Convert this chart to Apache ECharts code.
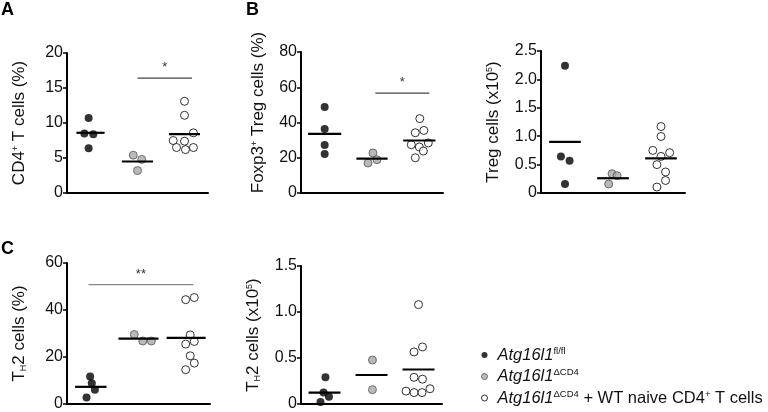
<!DOCTYPE html>
<html>
<head>
<meta charset="utf-8">
<script src="https://cdn.jsdelivr.net/npm/echarts@6/dist/echarts.min.js"></script>
<style>html,body{margin:0;padding:0;background:#fff}#c{width:768px;height:412px}</style>
</head>
<body>
<div id="c"></div>
<script>
// ---------- DATA ----------
var groupNames = ['Atg16l1 fl/fl', 'Atg16l1 ΔCD4', 'Atg16l1 ΔCD4 + WT naive CD4+ T cells'];

// Panel A: CD4+ T cells (%)
var aFl = [10.7, 8.5, 8.4, 6.4];
var aFlDx = [-0.04, -0.13, 0.06, -0.04];
var aKo = [5.4, 4.8, 3.2];
var aKoDx = [-0.09, 0.09, 0.0];
var aWt = [13.1, 11.1, 8.6, 7.5, 7.4, 6.5, 6.2, 6.5];
var aWtDx = [0, 0, 0.19, -0.24, 0, -0.17, 0.02, 0.19];
var aMeans = [8.6, 4.5, 8.4];
var aTicks = [0, 5, 10, 15, 20];
var aSig = [[2.0, 3.16, 16.4]];
var aSigLabel = ['*'];

// Panel B left: Foxp3+ Treg cells (%)
var bFl = [48.8, 36.3, 27.2, 22.1];
var bFlDx = [0, 0, 0, 0];
var bKo = [22.7, 17.0, 18.9];
var bKoDx = [0.02, -0.085, 0.105];
var bWt = [42.2, 35.5, 34.2, 28.4, 27.4, 26.1, 23.8, 20.0];
var bWtDx = [0.01, 0.095, -0.085, 0.19, -0.17, 0, 0.085, -0.085];
var bMeans = [33.5, 19.5, 29.8];
var bTicks = [0, 20, 40, 60, 80];
var bSig = [[2.07, 3.21, 56.7]];
var bSigLabel = ['*'];

// Panel B right: Treg cells (x10^5)
var b2Fl = [2.24, 0.644, 0.568, 0.158];
var b2FlDx = [0, -0.085, 0.095, 0];
var b2Ko = [0.34, 0.305, 0.158];
var b2KoDx = [-0.02, 0.085, -0.09];
var b2Wt = [1.17, 0.995, 0.75, 0.71, 0.644, 0.50, 0.37, 0.22, 0.105];
var b2WtDx = [0, 0, -0.17, 0.18, 0, -0.085, 0.095, 0.095, -0.085];
var b2Means = [0.9, 0.26, 0.61];
var b2Ticks = [0, 0.5, 1.0, 1.5, 2.0, 2.5];

// Panel C left: TH2 cells (%)
var cFl = [11.7, 8.8, 6.1, 2.8];
var cFlDx = [-0.015, 0.02, 0.085, -0.09];
var cKo = [29.6, 26.8, 26.8];
var cKoDx = [-0.09, 0.09, 0.27];
var cWt = [45.3, 44.4, 29.4, 26.6, 25.5, 20.5, 17.4, 14.6];
var cWtDx = [0.17, -0.01, 0.085, 0.17, -0.01, 0.085, 0.17, -0.01];
var cMeans = [7.3, 27.8, 28.1];
var cTicks = [0, 20, 40, 60];
var cSig = [[0.95, 3.15, 50.8]];
var cSigLabel = ['**'];

// Panel C right: TH2 cells (x10^5)
var c2Fl = [0.29, 0.124, 0.078, 0.021];
var c2FlDx = [0.02, -0.02, 0.095, -0.085];
var c2Ko = [0.478, 0.156];
var c2KoDx = [0.02, 0.02];
var c2Wt = [1.08, 0.62, 0.566, 0.29, 0.27, 0.14, 0.124, 0.124, 0.166];
var c2WtDx = [0, 0.085, -0.095, -0.095, 0.085, -0.265, -0.095, 0.075, 0.245];
var c2Means = [0.124, 0.315, 0.375];
var c2Ticks = [0, 0.5, 1.0, 1.5];

// ---------- LAYOUT / STYLE ----------
var FONT = 'Liberation Sans, Arial, sans-serif';
var panels = [
  {grid:{left:67, top:53, width:141, height:140}, ticks:aTicks, dec:false, gap:39, namePad:0,
   name:'{n|CD4}{s|+}{n| T cells (%)}',
   groups:[[aFl,aFlDx],[aKo,aKoDx],[aWt,aWtDx]], means:aMeans, hw:[0.3,0.33,0.33], sig:aSig, sigLabel:aSigLabel, sigColor:'#444'},
  {grid:{left:301, top:52, width:142, height:141}, ticks:bTicks, dec:false, gap:34, namePad:20,
   name:'{n|Foxp3}{s|+}{n| Treg cells (%)}',
   groups:[[bFl,bFlDx],[bKo,bKoDx],[bWt,bWtDx]], means:bMeans, hw:[0.35,0.33,0.34], sig:bSig, sigLabel:bSigLabel, sigColor:'#444'},
  {grid:{left:541, top:51, width:144, height:142}, ticks:b2Ticks, dec:true, gap:39, namePad:0,
   name:'{n|Treg cells (x10}{s|5}{n|)}',
   groups:[[b2Fl,b2FlDx],[b2Ko,b2KoDx],[b2Wt,b2WtDx]], means:b2Means, hw:[0.33,0.33,0.33], sig:null},
  {grid:{left:67, top:263, width:143, height:144}, ticks:cTicks, dec:false, gap:39, namePad:0,
   name:'{n|T}{b|H}{n|2 cells (%)}',
   groups:[[cFl,cFlDx],[cKo,cKoDx],[cWt,cWtDx]], means:cMeans, hw:[0.33,0.42,0.41], sig:cSig, sigLabel:cSigLabel, sigColor:'#888'},
  {grid:{left:301, top:266, width:141, height:141}, ticks:c2Ticks, dec:true, gap:39, namePad:0,
   name:'{n|T}{b|H}{n|2 cells (x10}{s|5}{n|)}',
   groups:[[c2Fl,c2FlDx],[c2Ko,c2KoDx],[c2Wt,c2WtDx]], means:c2Means, hw:[0.34,0.34,0.34], sig:null}
];

var groupStyles = [
  {color:'#000', borderColor:'#000', borderWidth:0},
  {color:'#a8a8a8', borderColor:'#555', borderWidth:1},
  {color:'#fff', borderColor:'#000', borderWidth:1}
];

var nameRich = {
  n:{fontSize:17, fontFamily:FONT, color:'#111'},
  s:{fontSize:9, fontFamily:FONT, color:'#111', verticalAlign:'top', padding:[0,0,8,0]},
  b:{fontSize:9, fontFamily:FONT, color:'#111', verticalAlign:'bottom', padding:[5,0,0,0]}
};

var grids = [], xAxes = [], yAxes = [], series = [];
panels.forEach(function(p, pi){
  grids.push(p.grid);
  xAxes.push({type:'value', gridIndex:pi, min:0.5, max:3.5,
    axisLine:{show:true, onZero:false, lineStyle:{color:'#000', width:2}},
    axisTick:{show:false}, axisLabel:{show:false}, splitLine:{show:false}});
  var t = p.ticks;
  yAxes.push({type:'value', gridIndex:pi, min:t[0], max:t[t.length-1], interval:t[1]-t[0],
    name:p.name, nameLocation:'middle', nameGap:p.gap,
    nameTextStyle:{rich:nameRich, padding:[0,0,0,p.namePad]},
    axisLine:{show:true, lineStyle:{color:'#000', width:2}},
    axisTick:{show:true, length:4, lineStyle:{color:'#000', width:1.5}},
    axisLabel:{fontSize:16, fontFamily:FONT, color:'#111', margin:4,
      formatter:function(v){ return p.dec ? (v===0 ? '0' : v.toFixed(1)) : String(v); }},
    splitLine:{show:false}});
  p.groups.forEach(function(g, gi){
    var vals = g[0], dx = g[1];
    series.push({type:'scatter', name:groupNames[gi], xAxisIndex:pi, yAxisIndex:pi,
      symbol:'circle', symbolSize:8, z:3,
      itemStyle:groupStyles[gi],
      data: vals.map(function(v, k){ return [gi + 1 + dx[k], v]; })});
  });
  series.push({type:'custom', xAxisIndex:pi, yAxisIndex:pi, z:5, silent:true,
    data: p.means.map(function(m, gi){ return [gi + 1, m, p.hw[gi]]; }),
    renderItem:function(params, api){
      var x = api.value(0), y = api.value(1), hw = api.value(2);
      var a = api.coord([x - hw, y]), b = api.coord([x + hw, y]);
      return {type:'line', shape:{x1:a[0], y1:a[1], x2:b[0], y2:b[1]}, style:{stroke:'#000', lineWidth:2.2}};
    }});
  if (p.sig) {
    series.push({type:'custom', xAxisIndex:pi, yAxisIndex:pi, z:4, silent:true,
      encode:{x:[0,1], y:2},
      data: p.sig,
      renderItem:function(params, api){
        var x1 = api.value(0), x2 = api.value(1), y = api.value(2);
        var a = api.coord([x1, y]), b = api.coord([x2, y]);
        return {type:'group', children:[
          {type:'line', shape:{x1:a[0], y1:a[1], x2:b[0], y2:b[1]}, style:{stroke:p.sigColor, lineWidth:1.2}},
          {type:'text', x:(a[0]+b[0])/2, y:a[1]-4, style:{text:p.sigLabel[params.dataIndex], align:'center', verticalAlign:'bottom', fontSize:13, fontFamily:FONT, fill:'#333'}}
        ]};
      }});
  }
});

var legendRich = {
  i:{fontSize:16.5, fontStyle:'italic', fontFamily:FONT, color:'#111', lineHeight:18},
  s:{fontSize:9.5, fontFamily:FONT, color:'#111', verticalAlign:'top', lineHeight:18, padding:[0,0,6,0]},
  n:{fontSize:16.5, fontFamily:FONT, color:'#111', lineHeight:18}
};
var legendText = [
  '{i|Atg16l1}{s|fl/fl}',
  '{i|Atg16l1}{s|ΔCD4}',
  '{i|Atg16l1}{s|ΔCD4}{n| + WT naive CD4}{s|+}{n| T cells}'
];

var option = {
  animation:false,
  backgroundColor:'#fff',
  grid:grids, xAxis:xAxes, yAxis:yAxes, series:series,
  legend:{orient:'vertical', left:476, top:341, itemWidth:16, itemHeight:6, itemGap:4,
    selectedMode:false,
    data:groupNames.map(function(n, i){ return {name:n, icon:'circle', itemStyle:groupStyles[i]}; }),
    formatter:function(name){ return legendText[groupNames.indexOf(name)]; },
    textStyle:{rich:legendRich}},
  graphic:[
    {type:'text', left:1, top:1, style:{text:'A', font:'bold 18px ' + FONT, fill:'#000'}},
    {type:'text', left:246, top:1, style:{text:'B', font:'bold 18px ' + FONT, fill:'#000'}},
    {type:'text', left:1, top:240, style:{text:'C', font:'bold 18px ' + FONT, fill:'#000'}}
  ]
};
var chart = echarts.init(document.getElementById('c'), null, {renderer:'canvas'});
chart.setOption(option);
</script>
</body>
</html>
